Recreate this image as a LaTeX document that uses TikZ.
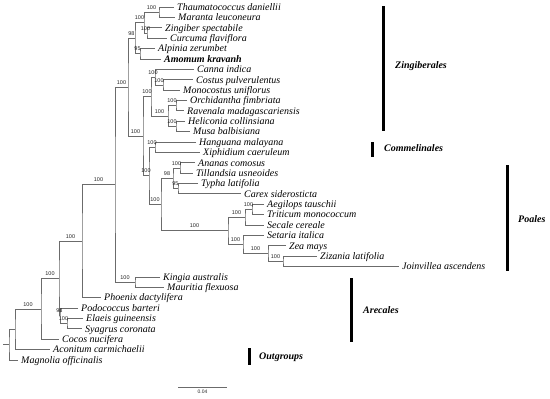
\documentclass[tikz,border=0pt]{standalone}
\usepackage{fontspec}
\setmainfont{Liberation Serif}
\newfontfamily\labfont{Liberation Sans}
\usetikzlibrary{calc}
\tikzset{
 br/.style={draw=black!58, line width=0.75pt},
 tip/.style={anchor=west, inner xsep=3pt, inner ysep=0pt, text height=6.6pt, text depth=0pt, font=\fontsize{10}{12}\selectfont\itshape},
 bs/.style={anchor=south, inner sep=0pt, text height=4pt, text depth=0pt, yshift=2.7pt, font=\labfont\fontsize{5.5}{6}\selectfont, text=black!85},
 cbar/.style={line width=3pt, draw=black},
 clab/.style={anchor=west, inner sep=0pt, font=\fontsize{10}{12}\selectfont\bfseries\itshape},
 sblabel/.style={anchor=north, inner sep=0pt, font=\labfont\fontsize{5}{6}\selectfont, text=black!85},
}
\begin{document}
\begin{tikzpicture}[x=1pt,y=-1pt]
\useasboundingbox (0,0) rectangle (550,399);
% tips
\node[tip] (t1) at (174,7.0) {Thaumatococcus daniellii};
\node[tip] (t2) at (175,17.4) {Maranta leuconeura};
\node[tip] (t3) at (162,27.8) {Zingiber spectabile};
\node[tip] (t4) at (167,38.1) {Curcuma flaviflora};
\node[tip] (t5) at (155,48.5) {Alpinia zerumbet};
\node[tip] (t6) at (161,58.9) {\bfseries Amomum kravanh};
\node[tip] (t7) at (194,69.3) {Canna indica};
\node[tip] (t8) at (193,79.7) {Costus pulverulentus};
\node[tip] (t9) at (180,90.0) {Monocostus uniflorus};
\node[tip] (t10) at (187,100.4) {Orchidantha fimbriata};
\node[tip] (t11) at (184,110.8) {Ravenala madagascariensis};
\node[tip] (t12) at (185,121.2) {Heliconia collinsiana};
\node[tip] (t13) at (190,131.6) {Musa balbisiana};
\node[tip] (t14) at (196,141.9) {Hanguana malayana};
\node[tip] (t15) at (200,152.3) {Xiphidium caeruleum};
\node[tip] (t16) at (195,162.7) {Ananas comosus};
\node[tip] (t17) at (193,173.1) {Tillandsia usneoides};
\node[tip] (t18) at (198,183.5) {Typha latifolia};
\node[tip] (t19) at (241,193.8) {Carex siderosticta};
\node[tip] (t20) at (264,204.2) {Aegilops tauschii};
\node[tip] (t21) at (264,214.6) {Triticum monococcum};
\node[tip] (t22) at (264,225.0) {Secale cereale};
\node[tip] (t23) at (264,235.4) {Setaria italica};
\node[tip] (t24) at (286,245.7) {Zea mays};
\node[tip] (t25) at (317,256.1) {Zizania latifolia};
\node[tip] (t26) at (399,266.5) {Joinvillea ascendens};
\node[tip] (t27) at (160,276.9) {Kingia australis};
\node[tip] (t28) at (164,287.3) {Mauritia flexuosa};
\node[tip] (t29) at (101,297.6) {Phoenix dactylifera};
\node[tip] (t30) at (78,308.0) {Podococcus barteri};
\node[tip] (t31) at (83,318.4) {Elaeis guineensis};
\node[tip] (t32) at (82,328.8) {Syagrus coronata};
\node[tip] (t33) at (59,339.2) {Cocos nucifera};
\node[tip] (t34) at (50,349.5) {Aconitum carmichaelii};
\node[tip] (t35) at (18,359.9) {Magnolia officinalis};
% internal nodes
\coordinate (TM) at (159,12.2);
\coordinate (ZC) at (147,33.0);
\coordinate (P1) at (144,22.6);
\coordinate (AA) at (140,53.7);
\coordinate (Z2) at (135,38.2);
\coordinate (CM) at (163,84.9);
\coordinate (Cn) at (155,77.1);
\coordinate (OrRa) at (176,105.6);
\coordinate (HM) at (176,126.4);
\coordinate (OR) at (168,116.0);
\coordinate (Z3) at (151,96.6);
\coordinate (HX) at (155,147.1);
\coordinate (AT) at (180,167.9);
\coordinate (TC) at (178,188.7);
\coordinate (Q) at (173,178.3);
\coordinate (AeTr) at (252,209.4);
\coordinate (G1) at (245,217.2);
\coordinate (G4) at (283,261.3);
\coordinate (G3) at (268,253.5);
\coordinate (G2) at (243,244.5);
\coordinate (R) at (228,230.8);
\coordinate (P) at (161,204.6);
\coordinate (Y) at (149,175.8);
\coordinate (X) at (143,136.2);
\coordinate (Z1) at (128,87.2);
\coordinate (KM) at (135,282.1);
\coordinate (M1) at (115,184.7);
\coordinate (N82) at (82,241.2);
\coordinate (ES) at (67,323.6);
\coordinate (PES) at (60,315.8);
\coordinate (N59) at (59,278.5);
\coordinate (N42) at (41,308.9);
\coordinate (N15) at (15,329.2);
\coordinate (root) at (9,344.6);
\coordinate (rootstub) at (3,344.6);
% branches
\draw[br] (t1.west) -| (TM) |- (t2.west);
\draw[br] (t3.west) -| (ZC) |- (t4.west);
\draw[br] (TM) -| (P1) |- (ZC);
\draw[br] (t5.west) -| (AA) |- (t6.west);
\draw[br] (P1) -| (Z2) |- (AA);
\draw[br] (t8.west) -| (CM) |- (t9.west);
\draw[br] (t7.west) -| (Cn) |- (CM);
\draw[br] (t10.west) -| (OrRa) |- (t11.west);
\draw[br] (t12.west) -| (HM) |- (t13.west);
\draw[br] (OrRa) -| (OR) |- (HM);
\draw[br] (Cn) -| (Z3) |- (OR);
\draw[br] (t14.west) -| (HX) |- (t15.west);
\draw[br] (t16.west) -| (AT) |- (t17.west);
\draw[br] (t18.west) -| (TC) |- (t19.west);
\draw[br] (AT) -| (Q) |- (TC);
\draw[br] (t20.west) -| (AeTr) |- (t21.west);
\draw[br] (AeTr) -| (G1) |- (t22.west);
\draw[br] (t25.west) -| (G4) |- (t26.west);
\draw[br] (t24.west) -| (G3) |- (G4);
\draw[br] (t23.west) -| (G2) |- (G3);
\draw[br] (G1) -| (R) |- (G2);
\draw[br] (Q) -| (P) |- (R);
\draw[br] (HX) -| (Y) |- (P);
\draw[br] (Z3) -| (X) |- (Y);
\draw[br] (Z2) -| (Z1) |- (X);
\draw[br] (t27.west) -| (KM) |- (t28.west);
\draw[br] (Z1) -| (M1) |- (KM);
\draw[br] (M1) -| (N82) |- (t29.west);
\draw[br] (t31.west) -| (ES) |- (t32.west);
\draw[br] (t30.west) -| (PES) |- (ES);
\draw[br] (N82) -| (N59) |- (PES);
\draw[br] (N59) -| (N42) |- (t33.west);
\draw[br] (N42) -| (N15) |- (t34.west);
\draw[br] (N15) -| (root) |- (t35.west);
\draw[br] (rootstub) -- (root);
% support values
\node[bs] (bTM) at ($(TM)!0.5!(P1|-TM)$) {100};
\node[bs] (bP1) at ($(P1)!0.5!(Z2|-P1)$) {100};
\node[bs] (bZC) at ($(ZC)!0.5!(P1|-ZC)$) {100};
\node[bs] (bZ2) at ($(Z2)!0.5!(Z1|-Z2)$) {98};
\node[bs] (bAA) at ($(AA)!0.5!(Z2|-AA)$) {95};
\node[bs] (bZ1) at ($(Z1)!0.5!(M1|-Z1)$) {100};
\node[bs] (bX) at ($(X)!0.5!(Z1|-X)$) {100};
\node[bs] (bZ3) at ($(Z3)!0.5!(X|-Z3)$) {100};
\node[bs] (bCn) at ($(Cn)!0.5!(Z3|-Cn)$) {100};
\node[bs] (bCM) at ($(CM)!0.5!(Cn|-CM)$) {100};
\node[bs] (bOR) at ($(OR)!0.5!(Z3|-OR)$) {100};
\node[bs] (bOrRa) at ($(OrRa)!0.5!(OR|-OrRa)$) {100};
\node[bs] (bHM) at ($(HM)!0.5!(OR|-HM)$) {100};
\node[bs] (bY) at ($(Y)!0.5!(X|-Y)$) {100};
\node[bs] (bHX) at ($(HX)!0.5!(Y|-HX)$) {100};
\node[bs] (bP) at ($(P)!0.5!(Y|-P)$) {100};
\node[bs] (bQ) at ($(Q)!0.5!(P|-Q)$) {98};
\node[bs] (bAT) at ($(AT)!0.5!(Q|-AT)$) {100};
\node[bs] (bTC) at ($(TC)!0.5!(Q|-TC)$) {95};
\node[bs] (bR) at ($(R)!0.5!(P|-R)$) {100};
\node[bs] (bG1) at ($(G1)!0.5!(R|-G1)$) {100};
\node[bs] (bAeTr) at ($(AeTr)!0.5!(G1|-AeTr)$) {100};
\node[bs] (bG2) at ($(G2)!0.5!(R|-G2)$) {100};
\node[bs] (bG3) at ($(G3)!0.5!(G2|-G3)$) {100};
\node[bs] (bG4) at ($(G4)!0.5!(G3|-G4)$) {100};
\node[bs] (bM1) at ($(M1)!0.5!(N82|-M1)$) {100};
\node[bs] (bKM) at ($(KM)!0.5!(M1|-KM)$) {100};
\node[bs] (bN82) at ($(N82)!0.5!(N59|-N82)$) {100};
\node[bs] (bN59) at ($(N59)!0.5!(N42|-N59)$) {100};
\node[bs] (bPES) at ($(PES)!0.5!(N59|-PES)$) {98};
\node[bs] (bES) at ($(ES)!0.5!(PES|-ES)$) {100};
\node[bs] (bN42) at ($(N42)!0.5!(N15|-N42)$) {100};
% clade bars
\coordinate (zb1) at (383,6); \coordinate (zb2) at (383,131);
\draw[cbar] (zb1) -- (zb2);
\node[clab] (zl) at (395,66) {Zingiberales};
\coordinate (cb1) at (372,142); \coordinate (cb2) at (372,157);
\draw[cbar] (cb1) -- (cb2);
\node[clab] (cl) at (384,148.5) {Commelinales};
\coordinate (pb1) at (507,165); \coordinate (pb2) at (507,271);
\draw[cbar] (pb1) -- (pb2);
\node[clab] (pl) at (518,219) {Poales};
\coordinate (ab1) at (351,278); \coordinate (ab2) at (351,342);
\draw[cbar] (ab1) -- (ab2);
\node[clab] (al) at (363,310) {Arecales};
\coordinate (ob1) at (249,348); \coordinate (ob2) at (249,365);
\draw[cbar] (ob1) -- (ob2);
\node[clab] (ol) at (259,357) {Outgroups};
% scale bar
\coordinate (sb1) at (178,387); \coordinate (sb2) at (227,387);
\draw[br] (sb1) -- (sb2);
\node[sblabel] (sbl) at ($(sb1)!0.5!(sb2)+(0,2.5)$) {0.04};
\end{tikzpicture}
\end{document}
